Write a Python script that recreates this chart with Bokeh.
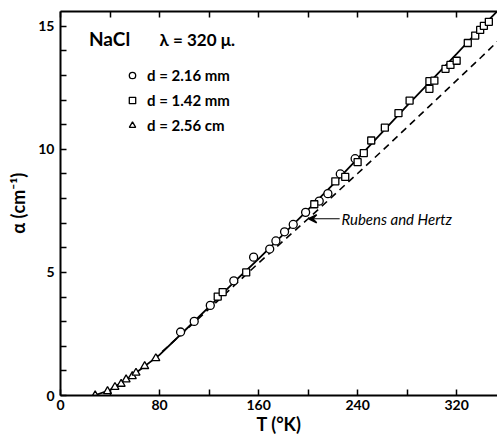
from bokeh.plotting import figure
from bokeh.models import (Range1d, LinearAxis, FixedTicker, Arrow, VeeHead, Label,
                          Legend, LegendItem)
from bokeh.embed import file_html
from bokeh.resources import INLINE

# ---- data ----
circ_T = [97, 108, 121, 140, 156, 169, 174, 181, 188, 198, 209, 216, 226, 238]
circ_a = [2.58, 3.01, 3.66, 4.66, 5.62, 5.95, 6.28, 6.65, 6.95, 7.44, 7.90, 8.20, 9.00, 9.62]

sq_T = [127, 131, 150, 205, 222, 230, 240, 245, 251, 262, 273, 282, 298, 298, 302,
        311, 315, 320, 329, 335, 339, 342, 346]
sq_a = [4.02, 4.20, 5.00, 7.77, 8.70, 8.88, 9.48, 9.85, 10.36, 10.88, 11.47, 11.98, 12.46, 12.77, 12.79,
        13.27, 13.43, 13.60, 14.32, 14.62, 14.85, 15.02, 15.18]

tri_T = [28, 38, 44, 49, 53, 58, 61, 68, 77]
tri_a = [0.00, 0.17, 0.34, 0.47, 0.65, 0.78, 0.92, 1.19, 1.51]

fit_T = [27, 40, 60, 80, 100, 120, 140, 160, 180, 200, 220, 240, 260, 280, 300, 320, 340, 353]
fit_a = [0.0, 0.22, 0.88, 1.65, 2.62, 3.60, 4.60, 5.55, 6.55, 7.55, 8.57, 9.62, 10.70, 11.78, 12.82, 13.88, 14.95, 15.62]

rh_T = [75, 100, 120, 140, 160, 180, 200, 220, 240, 260, 280, 300, 320, 340, 353]
rh_a = [1.45, 2.60, 3.52, 4.45, 5.38, 6.28, 7.18, 8.10, 9.02, 9.95, 10.90, 11.85, 12.80, 13.75, 14.38]

x_ticks = [0, 40, 80, 120, 160, 200, 240, 280, 320]
x_labels = {0: "0", 80: "80", 160: "160", 240: "240", 320: "320"}
y_ticks = list(range(0, 16))
y_labels = {0: "0", 5: "5", 10: "10", 15: "15"}

FONT = "Lato"

p = figure(width=497, height=437, x_range=Range1d(0, 353), y_range=Range1d(0, 15.6),
           output_backend="svg", toolbar_location=None,
           min_border_left=60, min_border_right=0, min_border_top=11, min_border_bottom=41)
p.outline_line_color = None
p.grid.visible = False
p.background_fill_color = "white"
p.border_fill_color = "white"

def style_axis(ax, ticks, labels):
    ax.ticker = FixedTicker(ticks=ticks)
    ax.major_label_overrides = {t: labels.get(t, "") for t in ticks}
    ax.minor_tick_line_color = None
    ax.major_tick_in = 6
    ax.major_tick_out = 0
    ax.major_tick_line_width = 1.5
    ax.major_tick_line_color = "black"
    ax.axis_line_width = 2
    ax.axis_line_color = "black"
    ax.major_label_text_font = FONT
    ax.major_label_text_font_style = "bold"
    ax.major_label_text_font_size = "14px"
    ax.major_label_text_color = "black"
    ax.axis_label_text_font = FONT
    ax.axis_label_text_font_style = "bold"
    ax.axis_label_text_font_size = "18px"
    ax.axis_label_text_color = "black"

style_axis(p.xaxis[0], x_ticks, x_labels)
style_axis(p.yaxis[0], y_ticks, y_labels)
p.xaxis[0].axis_label = "T (°K)"
p.xaxis[0].axis_label_standoff = 0
p.xaxis[0].major_label_standoff = 4
p.yaxis[0].axis_label = "α (cm⁻¹)"
p.yaxis[0].major_label_standoff = 6
p.yaxis[0].axis_label_standoff = 6

top = LinearAxis()
style_axis(top, x_ticks, {})
top.major_label_text_font_size = "0px"
top.major_label_standoff = 0
p.add_layout(top, "above")

# curves
p.line(fit_T, fit_a, line_color="black", line_width=1.8)
p.line(rh_T, rh_a, line_color="black", line_width=1.6, line_dash="7 5")

r_c = p.scatter(circ_T, circ_a, marker="circle", size=8, fill_color="white",
                line_color="black", line_width=1.3)
r_s = p.scatter(sq_T, sq_a, marker="square", size=7, fill_color="white",
                line_color="black", line_width=1.3)
r_t = p.scatter(tri_T, tri_a, marker="triangle", size=8, fill_color="white",
                line_color="black", line_width=1.3)

legend = Legend(items=[LegendItem(label="d = 2.16 mm", renderers=[r_c]),
                       LegendItem(label="d = 1.42 mm", renderers=[r_s]),
                       LegendItem(label="d = 2.56 cm", renderers=[r_t])],
                location=(64, 259), orientation="vertical",
                border_line_color=None, background_fill_alpha=0,
                padding=0, margin=0, spacing=3, glyph_width=16, glyph_height=22,
                label_standoff=7, label_text_font=FONT, label_text_font_style="bold",
                label_text_font_size="15px", label_text_color="black")
p.add_layout(legend, "center")

p.add_layout(Label(x=23, y=14.05, text="NaCl", text_font=FONT, text_font_style="bold",
                   text_font_size="19px", text_color="black"))
p.add_layout(Label(x=80, y=14.05, text="λ = 320 μ.", text_font=FONT, text_font_style="bold",
                   text_font_size="17px", text_color="black"))

p.add_layout(Arrow(x_start=225.5, y_start=7.18, x_end=200.5, y_end=7.18,
                   line_color="black", line_width=1.2,
                   end=VeeHead(size=8, line_color="black", line_width=1.5)))
p.add_layout(Label(x=227, y=7.18, text="Rubens and Hertz", text_font=FONT,
                   text_font_style="italic", text_font_size="15px", text_color="black",
                   text_baseline="middle"))

open("out.html", "w").write(file_html(p, INLINE))
